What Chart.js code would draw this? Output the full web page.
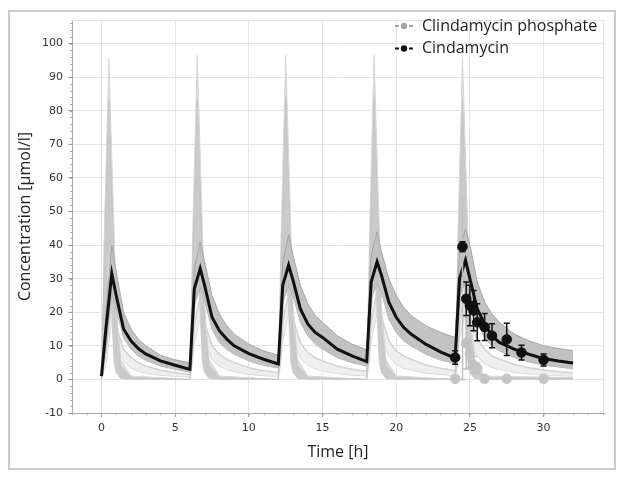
<!DOCTYPE html>
<html>
<head>
<meta charset="utf-8">
<script src="https://cdn.jsdelivr.net/npm/chart.js@4.4.1/dist/chart.umd.min.js"></script>
<style>
html, body { margin: 0; padding: 0; background: #fff; }
</style>
</head>
<body>
<canvas id="myChart" width="624" height="479"></canvas>
<script>
// simulated profiles, doses every 6 h
const timeH = [0, 0.3, 0.7, 1, 1.5, 2, 2.5, 3, 4, 5,
  6, 6.3, 6.7, 7, 7.5, 8, 8.5, 9, 10, 11,
  12, 12.3, 12.7, 13, 13.5, 14, 14.5, 15, 16, 17,
  18, 18.3, 18.7, 19, 19.5, 20, 20.5, 21, 22, 23,
  24, 24.3, 24.7, 25, 25.5, 26, 26.5, 27, 28, 29, 30, 31, 32];
const clinMedian = [1, 15, 31.5, 25, 15, 11.5, 9.2, 7.6, 5.5, 4.2,
  3, 27, 33, 28, 18.5, 14.5, 12, 10, 7.7, 6,
  4.6, 28, 34, 29.5, 21, 16.5, 14, 12.5, 9, 7,
  5.3, 29, 35, 31, 23, 18.5, 15.5, 13.5, 10.5, 8.2,
  6.3, 30, 35.5, 30, 21, 16.5, 13, 11, 9, 7.5, 6.2, 5.5, 4.9];
const clinUpper = [1.2, 20, 40, 32, 20, 15, 12, 10, 7.2, 5.8,
  5, 33, 41, 35, 25, 19.5, 16, 13.5, 10.5, 8.5,
  7.2, 35, 43, 37, 28, 22.5, 19, 17, 13, 10.5,
  8.8, 37, 44, 38, 30, 25, 21.5, 19, 16, 14,
  12.5, 38, 45, 40, 29, 23, 19.5, 17, 13.5, 11.5, 10, 9.2, 8.6];
const clinLower = [0.8, 10, 26, 21, 12.5, 9, 7, 5.7, 4, 3,
  2.2, 22, 27.5, 23.5, 15, 11, 9, 7.5, 5.5, 4.2,
  3.4, 23, 28, 25, 17, 13, 10.5, 9, 6.5, 5,
  4, 24, 28.5, 26, 18, 14, 11.5, 10, 7.5, 5.8,
  4.7, 25, 29, 25, 17, 12.5, 10, 8.5, 6.5, 5.2, 4.3, 3.7, 3.2];
const clinLight1 = [0.5, 8, 24, 16, 9, 6.5, 5, 4, 2.7, 2,
  1.5, 16, 25, 17, 10, 7.5, 6, 5, 3.5, 2.6,
  2, 17, 26, 18, 11, 8, 6.5, 5.5, 4, 3,
  2.4, 17, 26, 18.5, 11.5, 8.5, 7, 6, 4.3, 3.3,
  2.7, 18, 26, 19, 12, 9, 7, 6, 4.5, 3.5, 2.8, 2.3, 2];
const clinLight2 = [0.2, 5, 18, 11, 5.5, 3.5, 2.5, 2, 1.3, 1,
  0.8, 11, 19, 12, 6, 4, 3, 2.4, 1.6, 1.2,
  1, 12, 20, 12.5, 6.5, 4.3, 3.2, 2.6, 1.8, 1.3,
  1.1, 12, 20, 13, 7, 4.6, 3.4, 2.8, 2, 1.5,
  1.2, 13, 20, 13.5, 7, 4.8, 3.6, 3, 2.2, 1.7, 1.4, 1.2, 1];

// clindamycin phosphate spikes
const phosTime = [0, 0.2, 0.5, 0.85, 1, 1.3, 2,
  6, 6.2, 6.5, 6.85, 7, 7.3, 8,
  12, 12.2, 12.5, 12.85, 13, 13.3, 14,
  18, 18.2, 18.5, 18.85, 19, 19.3, 20,
  24, 24.2, 24.5, 24.85, 25, 25.3, 26, 32];
const phosOuter = [0, 45, 95.5, 45, 22, 6, 1,
  0, 45, 96.5, 45, 22, 6, 1,
  0, 45, 96.5, 45, 22, 6, 1,
  0, 45, 96.5, 45, 22, 6, 1,
  0, 45, 96, 45, 22, 6, 1, 0.5];
const phosInner = [0, 36, 83, 36, 16, 4, 0.5,
  0, 36, 83.5, 36, 16, 4, 0.5,
  0, 36, 84, 36, 16, 4, 0.5,
  0, 36, 84, 36, 16, 4, 0.5,
  0, 36, 83, 36, 16, 4, 0.5, 0.3];
const phosLower = [0, 6, 38, 5, 2, 0.3, 0,
  0, 6, 38, 5, 2, 0.3, 0,
  0, 6, 38, 5, 2, 0.3, 0,
  0, 6, 38, 5, 2, 0.3, 0,
  0, 6, 38, 5, 2, 0.3, 0, 0];

// observations after the 5th dose
const obsTime = [24, 24.5, 24.75, 25, 25.25, 25.5, 26, 26.5, 27.5, 28.5, 30];
const clinObs = [6.5, 39.5, 24, 22, 20.5, 17, 15.6, 13, 11.9, 8, 5.8];
const clinErr = [2, 1.5, 5, 6, 6, 5.5, 4, 3.6, 4.8, 2.2, 1.8];
const phosObsTime = [24, 24.5, 24.75, 25, 25.25, 25.5, 26, 27.5, 30];
const phosObs = [0.2, 39, 10.8, 7.7, 4.3, 3.3, 0.2, 0.2, 0.2];
const phosErrLo = [0, 39, 7.7, 4, 2.5, 1.5, 0, 0, 0];
const phosErrHi = [0, 15, 7.7, 4, 2.5, 1.5, 0, 0, 0];

const xTicks = [0, 5, 10, 15, 20, 25, 30];
const yTicks = [-10, 0, 10, 20, 30, 40, 50, 60, 70, 80, 90, 100];

function pts(xs, ys) {
  return xs.map((x, i) => ({x: x, y: ys[i]}));
}

const tickFont = {family: 'DejaVu Sans', size: 11};
const titleFont = {family: 'Open Sans', size: 16};

const errorBars = {
  id: 'errorBars',
  afterDatasetDraw(chart, args) {
    const ds = chart.data.datasets[args.index];
    if (!ds.errLo) return;
    const ctx = chart.ctx, x = chart.scales.x, y = chart.scales.y;
    ctx.save();
    ctx.strokeStyle = ds.errColor;
    ctx.lineWidth = 1.5;
    ds.data.forEach((p, i) => {
      const lo = ds.errLo[i], hi = ds.errHi[i];
      if (!lo && !hi) return;
      const px = x.getPixelForValue(p.x);
      const y1 = y.getPixelForValue(p.y + hi);
      const y2 = y.getPixelForValue(p.y - lo);
      ctx.beginPath();
      ctx.moveTo(px, y1); ctx.lineTo(px, y2);
      ctx.moveTo(px - 3, y1); ctx.lineTo(px + 3, y1);
      ctx.moveTo(px - 3, y2); ctx.lineTo(px + 3, y2);
      ctx.stroke();
    });
    ctx.restore();
  }
};

const decor = {
  id: 'decor',
  beforeDraw(chart) {
    const ctx = chart.ctx;
    ctx.save();
    ctx.strokeStyle = '#cbcbcb';
    ctx.lineWidth = 2;
    ctx.strokeRect(9, 11, 606, 458);
    ctx.restore();
  },
  beforeDatasetsDraw(chart) {
    const {ctx, chartArea: a} = chart;
    ctx.save();
    ctx.strokeStyle = '#e2e2e2';
    ctx.lineWidth = 1;
    ctx.beginPath();
    ctx.moveTo(a.left, a.top + 0.5); ctx.lineTo(a.right, a.top + 0.5);
    ctx.moveTo(a.right - 0.5, a.top); ctx.lineTo(a.right - 0.5, a.bottom);
    ctx.stroke();
    ctx.restore();
  },
  afterDraw(chart) {
    const {ctx, chartArea: a, scales: {x, y}} = chart;
    ctx.save();
    ctx.strokeStyle = '#a8a8a8';
    ctx.lineWidth = 1;
    ctx.beginPath();
    for (let v = -2; v <= 34; v++) {
      const px = Math.round(x.getPixelForValue(v)) + 0.5;
      ctx.moveTo(px, a.bottom); ctx.lineTo(px, a.bottom + 2);
    }
    for (let v = -10; v <= 106; v += 2) {
      const py = Math.round(y.getPixelForValue(v)) + 0.5;
      ctx.moveTo(a.left - 2, py); ctx.lineTo(a.left, py);
    }
    ctx.stroke();

    // legend
    const items = chart.data.datasets.filter(d => d.legendColor);
    ctx.font = '16px "Open Sans"';
    ctx.textBaseline = 'middle';
    items.forEach((d, i) => {
      const ly = 26 + i * 22.5, lx = 395;
      ctx.fillStyle = d.legendColor;
      ctx.fillRect(lx, ly - 1, 4, 2);
      ctx.fillRect(lx + 14, ly - 1, 4, 2);
      ctx.beginPath();
      ctx.arc(lx + 9, ly, 3.2, 0, Math.PI * 2);
      ctx.fill();
      ctx.fillStyle = '#1e1e1e';
      ctx.fillText(d.label, lx + 27, ly);
    });
    ctx.restore();
  }
};

const ctx = document.getElementById('myChart');
new Chart(ctx, {
  type: 'line',
  data: {
    datasets: [
      {label: 'light1', data: pts(timeH, clinLight1), borderColor: '#d2d2d2', borderWidth: 1.5,
        backgroundColor: '#eeeeee', fill: 1, pointRadius: 0, order: 12},
      {label: 'light2', data: pts(timeH, clinLight2), borderColor: '#d6d6d6', borderWidth: 1.5,
        fill: false, pointRadius: 0, order: 12},
      {label: 'phosOuter', data: pts(phosTime, phosOuter), borderColor: '#d6d6d6', borderWidth: 1,
        backgroundColor: '#dcdcdc', fill: 4, pointRadius: 0, order: 11},
      {label: 'phosInner', data: pts(phosTime, phosInner), borderColor: '#c6c6c6', borderWidth: 1,
        backgroundColor: '#cacaca', fill: 4, pointRadius: 0, order: 10},
      {label: 'phosLower', data: pts(phosTime, phosLower), borderColor: '#d6d6d6', borderWidth: 1,
        fill: false, pointRadius: 0, order: 10},
      {label: 'upper', data: pts(timeH, clinUpper), borderColor: '#a5a5a5', borderWidth: 1,
        backgroundColor: '#c2c2c2', fill: 6, pointRadius: 0, order: 8},
      {label: 'lower', data: pts(timeH, clinLower), borderColor: '#a5a5a5', borderWidth: 1,
        fill: false, pointRadius: 0, order: 8},
      {label: 'median', data: pts(timeH, clinMedian), borderColor: '#111111', borderWidth: 3,
        fill: false, pointRadius: 0, order: 5},
      {label: 'Clindamycin phosphate', data: pts(phosObsTime, phosObs), showLine: false,
        pointRadius: 4.8, pointBackgroundColor: '#c4c4c4', pointBorderColor: '#c4c4c4',
        errLo: phosErrLo, errHi: phosErrHi, errColor: '#c0c0c0', legendColor: '#a3a3a3', order: 3},
      {label: 'Cindamycin', data: pts(obsTime, clinObs), showLine: false,
        pointRadius: 4.8, pointBackgroundColor: '#111111', pointBorderColor: '#111111',
        errLo: clinErr, errHi: clinErr, errColor: '#111111', legendColor: '#111111', order: 2}
    ]
  },
  options: {
    responsive: false,
    animation: false,
    layout: {padding: {left: 8, right: 20, top: 20, bottom: 10}},
    plugins: {legend: {display: false}, tooltip: {enabled: false}},
    scales: {
      x: {
        type: 'linear', min: -2, max: 34.1,
        afterBuildTicks: s => { s.ticks = xTicks.map(v => ({value: v})); },
        afterFit: s => { s.height = 56; },
        grid: {color: '#e4e4e4', tickLength: 4, tickColor: '#a0a0a0'},
        border: {color: '#a8a8a8'},
        ticks: {font: tickFont, color: '#333', padding: 5, autoSkip: false, maxRotation: 0},
        title: {display: true, text: 'Time [h]', font: titleFont, color: '#222', padding: {top: 0, bottom: 7}}
      },
      y: {
        type: 'linear', min: -10, max: 107,
        afterBuildTicks: s => { s.ticks = yTicks.map(v => ({value: v})); },
        afterFit: s => { s.width = 64; },
        grid: {color: '#e4e4e4', tickLength: 4, tickColor: '#a0a0a0'},
        border: {color: '#a8a8a8'},
        ticks: {font: tickFont, color: '#333', padding: 5, autoSkip: false},
        title: {display: true, text: 'Concentration [µmol/l]', font: titleFont, color: '#222', padding: {top: 8, bottom: 0}}
      }
    }
  },
  plugins: [errorBars, decor]
});
</script>
</body>
</html>
